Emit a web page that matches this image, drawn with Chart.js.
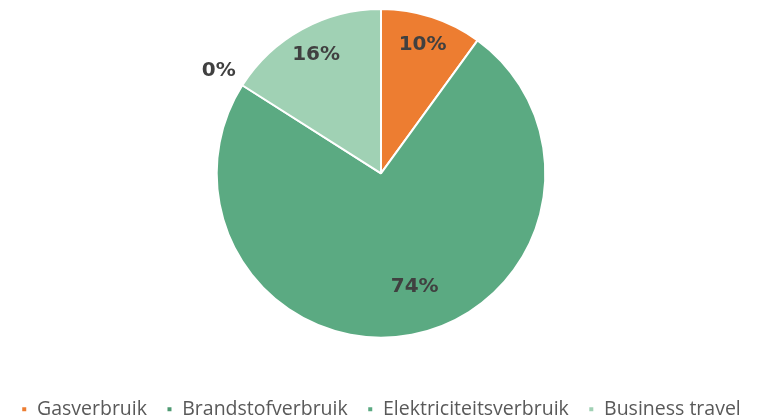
<!DOCTYPE html>
<html>
<head>
<meta charset="utf-8">
<script src="https://cdn.jsdelivr.net/npm/chart.js@4.4.0/dist/chart.umd.js"></script>
<style>
  html, body { margin: 0; padding: 0; background: #fff; }
  #wrap { width: 762px; height: 419px; position: relative; }
</style>
</head>
<body>
<div id="wrap"><canvas id="c"></canvas></div>
<script>
// categories in legend order
const categories = ['Gasverbruik', 'Brandstofverbruik', 'Elektriciteitsverbruik', 'Business travel'];
const values = [10, 0, 74, 16];
const colors = ['#ED7D31', '#4E9A72', '#5BAA82', '#A0D1B4'];
// order the slices go round the pie (clockwise from top)
const drawOrder = [0, 2, 1, 3];

const sliceLabels = {
  id: 'sliceLabels',
  afterDatasetsDraw(chart) {
    const ctx = chart.ctx;
    const meta = chart.getDatasetMeta(0);
    const data = chart.data.datasets[0].data;
    ctx.save();
    ctx.font = 'bold 20px "DejaVu Sans"';
    ctx.fillStyle = '#404040';
    ctx.textAlign = 'center';
    ctx.textBaseline = 'middle';
    meta.data.forEach((arc, i) => {
      const p = arc.getProps(['x', 'y', 'startAngle', 'endAngle', 'outerRadius'], true);
      let mid = (p.startAngle + p.endAngle) / 2;
      const v = data[i];
      let r;
      if (v === 0) r = p.outerRadius * 1.17;
      else if (v > 50) { r = p.outerRadius * 0.72; mid -= 0.1; }
      else r = p.outerRadius * 0.82;
      ctx.fillText(v + '%', p.x + r * Math.cos(mid), p.y + r * Math.sin(mid));
    });
    ctx.restore();
  }
};

new Chart(document.getElementById('c'), {
  type: 'pie',
  data: {
    labels: drawOrder.map(i => categories[i]),
    datasets: [{
      data: drawOrder.map(i => values[i]),
      backgroundColor: drawOrder.map(i => colors[i]),
      borderColor: '#ffffff',
      borderWidth: 2
    }]
  },
  options: {
    responsive: true,
    maintainAspectRatio: false,
    animation: false,
    layout: { padding: { top: 8, bottom: -10 } },
    plugins: {
      tooltip: { enabled: false },
      legend: {
        position: 'bottom',
        title: { display: true, text: ' ', font: { size: 12 }, padding: { top: 27, bottom: 0 } },
        labels: {
          color: '#595959',
          font: { family: '"Open Sans"', size: 19.5 },
          boxWidth: 6,
          boxHeight: 6,
          padding: 19.5,
          sort: (a, b) => categories.indexOf(a.text) - categories.indexOf(b.text)
        }
      }
    }
  },
  plugins: [sliceLabels]
});
</script>
</body>
</html>
